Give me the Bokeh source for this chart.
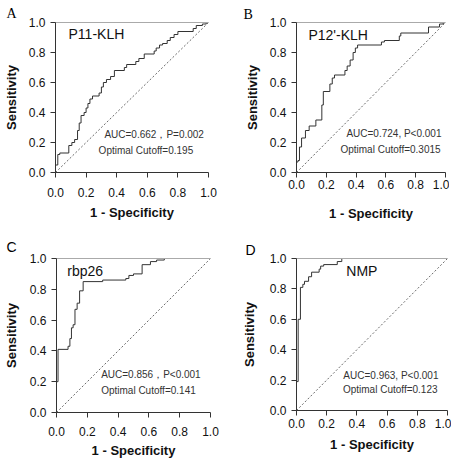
from bokeh.plotting import figure
from bokeh.models import Label, LinearAxis, Range1d, FixedTicker, PrintfTickFormatter
from bokeh.layouts import column, row
from bokeh.embed import file_html
from bokeh.resources import INLINE

# ---- data: ROC curve points (1-specificity, sensitivity) ----
fpr_a = [0, 0, 0.015, 0.028, 0.087, 0.107, 0.125, 0.144, 0.155, 0.167, 0.187, 0.2, 0.212, 0.225, 0.242,
         0.285, 0.3, 0.313, 0.333, 0.36, 0.385, 0.45, 0.465, 0.525, 0.545, 0.58, 0.645, 0.658, 0.68, 0.7,
         0.73, 0.75, 0.775, 0.8, 0.9, 0.92, 0.96, 0.985, 1.0]
tpr_a = [0, 0.05, 0.12, 0.13, 0.18, 0.2, 0.22, 0.28, 0.33, 0.38, 0.4, 0.43, 0.46, 0.49, 0.51,
         0.53, 0.57, 0.6, 0.62, 0.64, 0.68, 0.7, 0.72, 0.74, 0.76, 0.79, 0.81, 0.83, 0.85, 0.86,
         0.88, 0.9, 0.92, 0.94, 0.96, 0.98, 0.99, 1.0, 1.0]

fpr_b = [0, 0, 0.01, 0.02, 0.034, 0.06, 0.085, 0.13, 0.17, 0.18, 0.224, 0.24, 0.255, 0.325, 0.34,
         0.36, 0.38, 0.395, 0.41, 0.57, 0.59, 0.69, 0.7, 0.886, 0.96, 0.985, 1.0]
tpr_b = [0, 0.07, 0.08, 0.17, 0.23, 0.28, 0.31, 0.35, 0.45, 0.54, 0.59, 0.63, 0.65, 0.68, 0.71,
         0.75, 0.8, 0.83, 0.85, 0.87, 0.88, 0.91, 0.93, 0.97, 0.99, 1.0, 1.0]

fpr_c = [0, 0, 0.01, 0.075, 0.087, 0.097, 0.108, 0.12, 0.134, 0.15, 0.173, 0.3, 0.45, 0.47, 0.5,
         0.556, 0.61, 0.65, 0.7, 1.0]
tpr_c = [0, 0.2, 0.41, 0.43, 0.48, 0.55, 0.57, 0.67, 0.71, 0.79, 0.85, 0.86, 0.87, 0.89, 0.9,
         0.96, 0.98, 0.99, 1.0, 1.0]

fpr_d = [0, 0, 0.011, 0.026, 0.042, 0.053, 0.08, 0.1, 0.15, 0.16, 0.18, 0.27, 0.3, 1.0]
tpr_d = [0, 0.19, 0.6, 0.81, 0.83, 0.85, 0.88, 0.91, 0.93, 0.95, 0.96, 0.98, 1.0, 1.0]

marker_names = ["P11-KLH", "P12'-KLH", "rbp26", "NMP"]
auc_texts = ["AUC=0.662，P=0.002", "AUC=0.724, P<0.001", "AUC=0.856，P<0.001", "AUC=0.963, P<0.001"]
cutoff_texts = ["Optimal Cutoff=0.195", "Optimal Cutoff=0.3015", "Optimal Cutoff=0.141", "Optimal Cutoff=0.123"]
panel_letters = ["A", "B", "C", "D"]
ticks = [0.0, 0.2, 0.4, 0.6, 0.8, 1.0]

SANS = "Liberation Sans"
SERIF = "Liberation Serif"


def panel(fpr, tpr, name, auc, cut, letter, lay):
    p = figure(frame_width=lay["fw"], frame_height=lay["fh"],
               min_border_left=lay["l"], min_border_right=lay["r"],
               min_border_top=lay["t"], min_border_bottom=lay["b"],
               x_range=Range1d(0, 1), y_range=Range1d(0, 1),
               output_backend="svg", toolbar_location=None,
               x_axis_label="1 - Specificity", y_axis_label="Sensitivity")
    p.outline_line_color = None
    p.xgrid.visible = False
    p.ygrid.visible = False
    p.background_fill_color = "white"
    p.border_fill_color = "white"
    for ax in (p.xaxis[0], p.yaxis[0]):
        ax.ticker = FixedTicker(ticks=ticks)
        ax.formatter = PrintfTickFormatter(format="%.1f")
        ax.minor_tick_line_color = None
        ax.major_tick_in = 0
        ax.major_tick_out = 5
        ax.axis_line_color = "#333333"
        ax.major_tick_line_color = "#333333"
        ax.major_label_text_font = SANS
        ax.major_label_text_font_size = "12px"
        ax.major_label_text_color = "#111111"
        ax.axis_label_text_font = SANS
        ax.axis_label_text_font_size = "13px"
        ax.axis_label_text_font_style = "bold"
        ax.axis_label_text_color = "#111111"
    p.xaxis[0].major_label_standoff = lay["xs"]
    p.xaxis[0].axis_label_standoff = lay["xls"]
    p.yaxis[0].major_label_standoff = 5
    p.yaxis[0].axis_label_standoff = lay["yls"]

    top = LinearAxis(ticker=FixedTicker(ticks=[]), major_label_text_font_size="0px",
                     major_tick_line_color=None, minor_tick_line_color=None,
                     major_tick_in=0, major_tick_out=0,
                     axis_line_color="#aaaaaa", major_label_standoff=0)
    p.add_layout(top, "above")

    # panel letter as title
    p.title.text = letter
    p.title.text_font = lay["lfont"]
    p.title.text_font_size = "14px"
    p.title.text_font_style = "normal"
    p.title.text_color = "#000000"
    p.title.align = "left"
    p.title.offset = lay["toff"]
    p.title.standoff = lay["tstand"]

    # reference diagonal
    p.line(ticks, ticks, line_color="#444444", line_width=0.8, line_dash="2 2")
    # ROC curve
    p.step(fpr, tpr, mode="after", line_color="#333333", line_width=1.0)

    p.add_layout(Label(x=lay["nx"], y=lay["ny"], text=name, text_font=SANS,
                       text_font_size="14px", text_color="#111111",
                       text_baseline="middle", text_align="left"))
    p.add_layout(Label(x=lay["ax"], y=lay["ay"], text=auc, text_font=SANS,
                       text_font_size="10px", text_color="#333333",
                       text_baseline="middle", text_align=lay["align"]))
    p.add_layout(Label(x=lay["cx"], y=lay["cy"], text=cut, text_font=SANS,
                       text_font_size="10px", text_color="#333333",
                       text_baseline="middle", text_align=lay["align"]))
    return p


lay_a = dict(fw=153, fh=150, l=47, r=20, t=22, b=50, xs=10, xls=5, yls=7,
             nx=0.085, ny=0.925, ax=0.97, ay=0.253, cx=0.90, cy=0.147, align="right",
             lfont=SERIF, toff=-49, tstand=4)
lay_b = dict(fw=149, fh=150, l=68, r=4, t=20, b=52, xs=2, xls=14, yls=7,
             nx=0.08, ny=0.915, ax=0.973, ay=0.26, cx=0.967, cy=0.153, align="right",
             lfont=SERIF, toff=-53, tstand=2)
lay_c = dict(fw=154, fh=154, l=46, r=20, t=36, b=45, xs=9, xls=4, yls=8,
             nx=0.07, ny=0.916, ax=0.29, ay=0.247, cx=0.29, cy=0.143, align="left",
             lfont=SANS, toff=-50, tstand=8)
lay_d = dict(fw=151, fh=152, l=66, r=4, t=36, b=47, xs=3, xls=6, yls=10,
             nx=0.33, ny=0.92, ax=0.94, ay=0.23, cx=0.934, cy=0.138, align="right",
             lfont=SANS, toff=-51, tstand=2)

pa = panel(fpr_a, tpr_a, marker_names[0], auc_texts[0], cutoff_texts[0], panel_letters[0], lay_a)
pb = panel(fpr_b, tpr_b, marker_names[1], auc_texts[1], cutoff_texts[1], panel_letters[1], lay_b)
pc = panel(fpr_c, tpr_c, marker_names[2], auc_texts[2], cutoff_texts[2], panel_letters[2], lay_c)
pd = panel(fpr_d, tpr_d, marker_names[3], auc_texts[3], cutoff_texts[3], panel_letters[3], lay_d)

layout = column(row(pa, pb), row(pc, pd))
open("out.html", "w").write(file_html(layout, INLINE))
